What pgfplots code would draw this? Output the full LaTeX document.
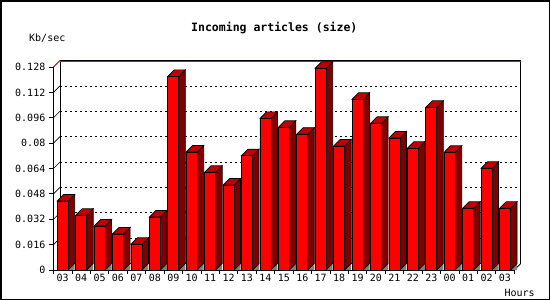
\documentclass[border=0pt]{standalone}
\usepackage{fontspec}
\usepackage{pgfplots}
\usepackage{pgfplotstable}
\pgfplotsset{compat=1.18}
\newfontfamily\monofont{DejaVu Sans Mono}
\newcommand\labfont{\monofont\fontsize{10}{12}\selectfont}
\newcommand\titfont{\monofont\bfseries\fontsize{11.5}{13}\selectfont}
\definecolor{barred}{RGB}{255,0,0}
\definecolor{topred}{RGB}{192,0,0}
\definecolor{sidered}{RGB}{128,0,0}
\definecolor{floorgray}{RGB}{128,128,128}
\def\ddx{0.3527}
\def\ddy{0.0041}
\pgfplotstableread{
x v
0 0.0435
1 0.0345
2 0.0277
3 0.0227
4 0.0162
5 0.0334
6 0.1221
7 0.0744
8 0.0616
9 0.0536
10 0.0721
11 0.0956
12 0.0900
13 0.0856
14 0.1272
15 0.0782
16 0.1076
17 0.0925
18 0.0832
19 0.0767
20 0.1026
21 0.0742
22 0.0389
23 0.0641
24 0.0389
}\datatable
\begin{document}
\begin{tikzpicture}
\begin{axis}[
  at={(53.5pt,-270pt)}, anchor=south west,
  scale only axis, width=460.7pt, height=203pt,
  xmin=-0.5, xmax=24.5, ymin=0, ymax=0.128,
  clip=false, no markers,
  axis x line*=bottom, axis y line*=left,
  axis line style={-, black, line width=0.8pt},
  xtick={0,...,24},
  xticklabels={03,04,05,06,07,08,09,10,11,12,13,14,15,16,17,18,19,20,21,22,23,00,01,02,03},
  minor xtick={-0.5,0.5,...,24.5},
  major x tick style={draw=none},
  tick align=outside,
  major tick length=4pt, minor tick length=4pt,
  every tick/.style={black, line width=0.8pt},
  ytick={0,0.016,0.032,0.048,0.064,0.08,0.096,0.112,0.128},
  /pgf/number format/assume math mode=true,
  yticklabel={\pgfmathprintnumber[fixed,precision=3]{\tick}},
  ticklabel style={font=\labfont},
  yticklabel style={inner sep=0pt, anchor=east, xshift=-4pt},
  xticklabel style={inner sep=0pt, anchor=north},
  ymajorgrids,
  major grid style={black, line width=0.7pt, dash pattern=on 2pt off 3pt, xshift=6.5pt, yshift=6.5pt},
]
% back wall frame
\addplot[black, line width=0.8pt] coordinates {(-0.1473,0.0041) (-0.1473,0.1321)};
\addplot[black, line width=0.8pt] coordinates {(24.8527,0.0041) (24.8527,0.1321)};
\addplot[black, line width=1pt] coordinates {(-0.1473,0.1321) (24.8527,0.1321)};
\addplot[red, line width=1pt] coordinates {(-0.1473,0.1315) (24.8527,0.1315)};
\addplot[red!60!black, line width=1pt] coordinates {(-0.5,0.128) (-0.1473,0.1321)};
\addplot[black, line width=0.8pt] coordinates {(24.5,0) (24.8527,0.0041)};
% small diagonal ticks
\pgfplotsinvokeforeach{0.016,0.032,0.048,0.064,0.08,0.096,0.112}{
  \pgfmathsetmacro\ly{#1+\ddy}
  \edef\tmp{\noexpand\addplot[black, line width=0.6pt] coordinates {(-0.5,#1) (-0.1473,\ly)};}\tmp
}
% 3D faces of the bars
\pgfplotsinvokeforeach{0,...,24}{
  \pgfplotstablegetelem{#1}{v}\of\datatable
  \pgfmathsetmacro\vv{\pgfplotsretval}
  \pgfmathsetmacro\vt{\vv+\ddy}
  \pgfmathsetmacro\xa{#1-0.3}
  \pgfmathsetmacro\xb{#1+0.3}
  \pgfmathsetmacro\xc{#1+0.3+\ddx}
  \pgfmathsetmacro\xd{#1-0.3+\ddx}
  \edef\tmp{%
    \noexpand\addplot[fill=floorgray, draw=none] coordinates {(\xb,0) (\xc,0) (\xc,\ddy)} -- cycle;
    \noexpand\addplot[fill=sidered, draw=black, line width=0.7pt] coordinates {(\xb,0) (\xc,\ddy) (\xc,\vt) (\xb,\vv)} -- cycle;
    \noexpand\addplot[fill=topred, draw=black, line width=0.7pt] coordinates {(\xa,\vv) (\xb,\vv) (\xc,\vt) (\xd,\vt)} -- cycle;
  }\tmp
}
% front faces
\addplot[ybar, bar width=0.6, fill=barred, draw=black, line width=0.7pt] table[x=x, y=v] {\datatable};
\end{axis}
\node[font=\titfont, anchor=base] at (274.3pt,-31.5pt) {Incoming articles (size)};
\node[font=\labfont, anchor=base west, inner sep=0pt] at (29pt,-41pt) {Kb/sec};
\node[font=\labfont, anchor=base west, inner sep=0pt] at (504.3pt,-296pt) {Hours};
\draw[line width=1.5pt] (0.75pt,-0.75pt) rectangle (549.25pt,-299.25pt);
\pgfresetboundingbox
\useasboundingbox (0pt,0pt) rectangle (550pt,-300pt);
\end{tikzpicture}
\end{document}
